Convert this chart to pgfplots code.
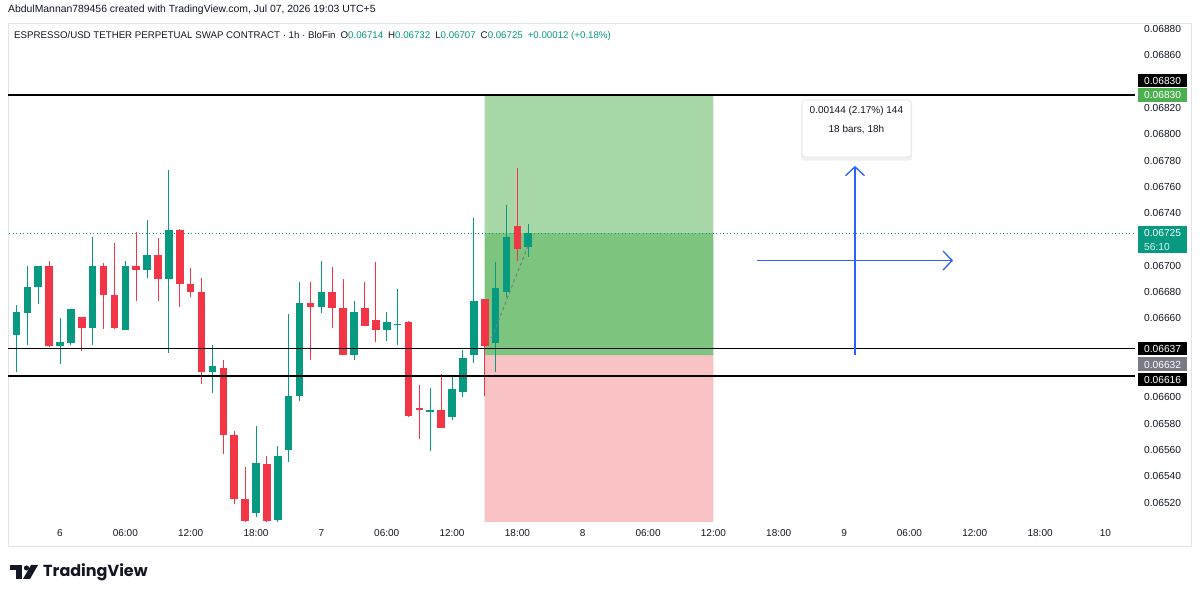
\documentclass[border=0pt]{standalone}
\usepackage{fontspec}
\setmainfont{Liberation Sans}
\newfontfamily\logofont{Poppins}
\usepackage{pgfplots}
\pgfplotsset{compat=1.18}
\usetikzlibrary{arrows.meta}

\definecolor{cg}{HTML}{089981}
\definecolor{cr}{HTML}{F23645}
\definecolor{tvtext}{HTML}{131722}
\definecolor{tpfill}{HTML}{A9D8A8}
\definecolor{tpfill2}{HTML}{7DC47E}
\definecolor{slfill}{HTML}{F9C2C5}
\definecolor{tvblue}{HTML}{2962FF}
\definecolor{framec}{HTML}{E0E3EB}
\definecolor{tvgray}{HTML}{787B86}
\definecolor{labgreen}{HTML}{4CAF50}
\definecolor{labgray}{HTML}{787B86}

% \candle{hour}{open}{high}{low}{close}{colour}
\newcommand{\candle}[6]{%
  \addplot[#6, line width=1pt, forget plot] coordinates {(#1,#4) (#1,#3)};
  \addplot[#6, line width=7.6pt, forget plot] coordinates {(#1,#2) (#1,#5)};
}

\begin{document}
\begin{tikzpicture}
\path[fill=white] (-8pt,-77pt) rectangle (1192pt,522pt);
\draw[framec, line width=0.8pt] (0pt,-24pt) rectangle (1183.7pt,499pt);

\begin{axis}[at={(0pt,0pt)}, anchor=south west, scale only axis,
  width=1127pt, height=499pt,
  xmin=-4.775, xmax=98.71, ymin=0.0650517, ymax=0.0688464,
  axis line style={draw=none}, clip=true,
  scaled y ticks=false, scaled x ticks=false,
  major tick length=0pt,
  xtick={0,6,12,18,24,30,36,42,48,54,60,66,72,78,84,90,96},
  xticklabels={6,06:00,12:00,18:00,7,06:00,12:00,18:00,8,06:00,12:00,18:00,9,06:00,12:00,18:00,10},
  xticklabel style={yshift=-4pt, font=\fontsize{10}{12}\selectfont, text=tvtext},
  ytick={0.0652,0.0654,0.0656,0.0658,0.0660,0.0666,0.0668,0.0670,0.0674,0.0676,0.0678,0.0680,0.0682,0.0686,0.0688},
  yticklabels={0.06520,0.06540,0.06560,0.06580,0.06600,0.06660,0.06680,0.06700,0.06740,0.06760,0.06780,0.06800,0.06820,0.06860,0.06880},
  yticklabel pos=right,
  yticklabel style={anchor=west, inner xsep=0pt, xshift=9pt, font=\fontsize{10.2}{12}\selectfont, text=tvtext},
]
% long position tool
\addplot[fill=slfill, draw=none, forget plot] coordinates {(39,0.0640) (60,0.0640) (60,0.06632) (39,0.06632) (39,0.0640)};
\addplot[fill=tpfill2, draw=none, forget plot] coordinates {(39,0.06632) (60,0.06632) (60,0.06725) (39,0.06725) (39,0.06632)};
\addplot[fill=tpfill, draw=none, forget plot] coordinates {(39,0.06725) (60,0.06725) (60,0.06830) (39,0.06830) (39,0.06725)};

% last price line
\addplot[cg, line width=0.8pt, dash pattern=on 1pt off 2.5pt, forget plot] coordinates {(-5,0.06725) (99,0.06725)};

% candles: hour (0 = day 6 00:00), O, H, L, C
\candle{-4}{0.06647}{0.06670}{0.06619}{0.06665}{cg}
\candle{-3}{0.06664}{0.06700}{0.06640}{0.06684}{cg}
\candle{-2}{0.06684}{0.06700}{0.06671}{0.06700}{cg}
\candle{-1}{0.06700}{0.06704}{0.06638}{0.06639}{cr}
\candle{0}{0.06639}{0.06660}{0.06625}{0.06642}{cg}
\candle{1}{0.06641}{0.06667}{0.06640}{0.06667}{cg}
\candle{2}{0.06661}{0.06661}{0.06635}{0.06653}{cr}
\candle{3}{0.06653}{0.06722}{0.06640}{0.06700}{cg}
\candle{4}{0.06700}{0.06702}{0.06652}{0.06678}{cr}
\candle{5}{0.06678}{0.06717}{0.06652}{0.06653}{cr}
\candle{6}{0.06651}{0.06704}{0.06651}{0.06700}{cg}
\candle{7}{0.06700}{0.06726}{0.06673}{0.06697}{cr}
\candle{8}{0.06697}{0.06735}{0.06691}{0.06708}{cg}
\candle{9}{0.06708}{0.06721}{0.06673}{0.06690}{cr}
\candle{10}{0.06690}{0.06773}{0.06634}{0.06727}{cg}
\candle{11}{0.06727}{0.06728}{0.06669}{0.06686}{cr}
\candle{12}{0.06686}{0.06698}{0.06676}{0.06680}{cr}
\candle{13}{0.06680}{0.06691}{0.06610}{0.06619}{cr}
\candle{14}{0.06619}{0.06640}{0.06603}{0.06624}{cg}
\candle{15}{0.06622}{0.06628}{0.06557}{0.06571}{cr}
\candle{16}{0.06571}{0.06574}{0.06519}{0.06523}{cr}
\candle{17}{0.06523}{0.06547}{0.06503}{0.06506}{cr}
\candle{18}{0.06512}{0.06578}{0.06509}{0.06550}{cg}
\candle{19}{0.06549}{0.06555}{0.06504}{0.06506}{cr}
\candle{20}{0.06507}{0.06563}{0.06504}{0.06555}{cg}
\candle{21}{0.06560}{0.06663}{0.06551}{0.06601}{cg}
\candle{22}{0.06601}{0.06688}{0.06597}{0.06672}{cg}
\candle{23}{0.06672}{0.06688}{0.06628}{0.06669}{cr}
\candle{24}{0.06669}{0.06704}{0.06664}{0.06680}{cg}
\candle{25}{0.06680}{0.06699}{0.06653}{0.06668}{cr}
\candle{26}{0.06668}{0.06690}{0.06632}{0.06632}{cr}
\candle{27}{0.06632}{0.06673}{0.06628}{0.06665}{cg}
\candle{28}{0.06668}{0.06688}{0.06654}{0.06654}{cr}
\candle{29}{0.06659}{0.06703}{0.06642}{0.06651}{cr}
\candle{30}{0.06651}{0.06665}{0.06643}{0.06657}{cg}
\candle{31}{0.06655}{0.06682}{0.06640}{0.06656}{cg}
\candle{32}{0.06657}{0.06658}{0.06585}{0.06586}{cr}
\candle{33}{0.06592}{0.06609}{0.06568}{0.06590}{cr}
\candle{34}{0.06589}{0.06607}{0.06559}{0.06590}{cg}
\candle{35}{0.06590}{0.06618}{0.06577}{0.06577}{cr}
\candle{36}{0.06585}{0.06617}{0.06583}{0.06606}{cg}
\candle{37}{0.06604}{0.06636}{0.06600}{0.06630}{cg}
\candle{38}{0.06632}{0.06736}{0.06626}{0.06673}{cg}
\candle{39}{0.06675}{0.06675}{0.06601}{0.06639}{cr}
\candle{40}{0.06641}{0.06703}{0.06619}{0.06683}{cg}
\candle{41}{0.06680}{0.06746}{0.06676}{0.06722}{cg}
\candle{42}{0.06730}{0.06774}{0.06704}{0.06713}{cr}
\candle{43}{0.06714}{0.06732}{0.06707}{0.06725}{cg}

% dashed path of the position tool
\addplot[tvgray, line width=1pt, dash pattern=on 3pt off 3pt, forget plot] coordinates {(39.64,0.066451) (43.0,0.067158)};

% horizontal levels
\addplot[black, line width=1.6pt, forget plot] coordinates {(-5,0.06830) (99,0.06830)};
\addplot[black, line width=1.6pt, forget plot] coordinates {(-5,0.06637) (99,0.06637)};
\addplot[black, line width=1.6pt, forget plot] coordinates {(-5,0.06616) (99,0.06616)};

% measurement arrows
\addplot[tvblue, line width=1.3pt, -{Straight Barb[length=9pt,width=19pt]}, forget plot] coordinates {(64,0.06704) (82,0.06704)};
\addplot[tvblue, line width=1.3pt, -{Straight Barb[length=9pt,width=19pt]}, forget plot] coordinates {(73,0.06632) (73,0.06776)};

% measurement label
\fill[black, opacity=0.06, rounded corners=3pt] (axis cs:68.05,0.068251) rectangle (axis cs:78.25,0.067800);
\draw[framec, fill=white, rounded corners=3pt, line width=0.6pt] (axis cs:68.13,0.068261) rectangle (axis cs:78.14,0.067827);
\node[font=\fontsize{10}{12}\selectfont, text=tvtext] at (axis cs:73.13,0.068177) {0.00144 (2.17\%) 144};
\node[font=\fontsize{10}{12}\selectfont, text=tvtext] at (axis cs:73.13,0.068033) {18 bars, 18h};
\end{axis}

% price scale labels
\begin{scope}[every node/.style={font=\fontsize{10.2}{12}\selectfont, text=white, anchor=west, inner xsep=0pt}]
\fill[black] (1129.7pt,434.5pt) rectangle (1179.3pt,447.5pt);
\node at (1136pt,441pt) {0.06830};
\fill[labgreen] (1129.7pt,420.3pt) rectangle (1179.3pt,433.7pt);
\node at (1136pt,427pt) {0.06830};
\fill[cg] (1129.7pt,269.3pt) rectangle (1179.3pt,296pt);
\node at (1136pt,289pt) {0.06725};
\node[text=white!85!cg] at (1136pt,275pt) {56:10};
\fill[black] (1129.7pt,166.8pt) rectangle (1179.3pt,179.5pt);
\node at (1136pt,173.2pt) {0.06637};
\fill[labgray] (1129.7pt,150.5pt) rectangle (1179.3pt,164.6pt);
\node at (1136pt,157.5pt) {0.06632};
\fill[black] (1129.7pt,136.3pt) rectangle (1179.3pt,148.8pt);
\node at (1136pt,142.5pt) {0.06616};
\end{scope}

% header
\node[anchor=west, inner xsep=0pt, font=\fontsize{10.4}{12}\selectfont, text=tvtext] at (0pt,512pt) {AbdulMannan789456 created with TradingView.com, Jul 07, 2026 19:03 UTC+5};
\node[anchor=west, inner xsep=0pt, font=\fontsize{9.7}{12}\selectfont, text=tvtext] at (6pt,486pt) {ESPRESSO/USD TETHER PERPETUAL SWAP CONTRACT {\textperiodcentered} 1h {\textperiodcentered} BloFin\hspace{5pt}O\textcolor{cg}{0.06714}\hspace{5pt}H\textcolor{cg}{0.06732}\hspace{5pt}L\textcolor{cg}{0.06707}\hspace{5pt}C\textcolor{cg}{0.06725}\hspace{5pt}\textcolor{cg}{+0.00012 (+0.18\%)}};

% TradingView logo
\fill[tvtext] (2pt,-48pt) rectangle (14pt,-43pt);
\fill[tvtext] (8pt,-43pt) rectangle (14pt,-57pt);
\fill[tvtext] (18.5pt,-46pt) circle (2.6pt);
\fill[tvtext] (23pt,-43pt) -- (30pt,-43pt) -- (22pt,-57pt) -- (15pt,-57pt) -- cycle;
\node[anchor=west, inner xsep=0pt, font=\logofont\bfseries\fontsize{16}{18}\selectfont, text=tvtext] at (35pt,-50pt) {TradingView};
\end{tikzpicture}
\end{document}
